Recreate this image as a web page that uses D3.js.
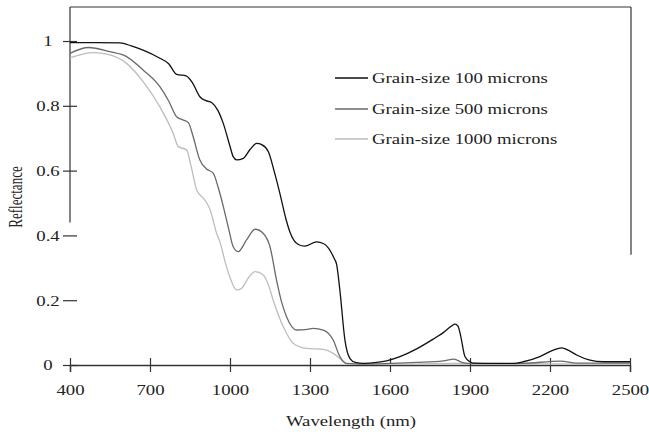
<!DOCTYPE html>
<html>
<head>
<meta charset="utf-8">
<script src="https://cdn.jsdelivr.net/npm/d3@7"></script>
<style>
  body { margin: 0; background: #fff; }
  text { font-family: "Liberation Serif", "DejaVu Serif", serif; fill: #222; }
</style>
</head>
<body>
<svg id="chart" width="649" height="438"></svg>
<script>
// Grain-size 100 microns
const wl100 = [400, 450, 500, 587, 630, 674, 737, 770, 800, 837, 860, 887, 910, 931, 955, 975, 1000, 1012, 1025, 1050, 1075, 1100, 1119, 1144, 1165, 1187, 1210, 1225, 1256, 1280, 1325, 1350, 1370, 1390, 1400, 1412, 1431, 1450, 1470, 1500, 1550, 1587, 1637, 1700, 1762, 1800, 1830, 1844, 1855, 1865, 1881, 1900, 1912, 2000, 2062, 2100, 2162, 2210, 2244, 2270, 2300, 2350, 2400, 2500];
const r100 = [0.995, 0.995, 0.995, 0.994, 0.985, 0.972, 0.947, 0.93, 0.897, 0.892, 0.87, 0.828, 0.816, 0.81, 0.785, 0.745, 0.675, 0.643, 0.633, 0.638, 0.665, 0.684, 0.68, 0.658, 0.6, 0.53, 0.45, 0.41, 0.372, 0.367, 0.38, 0.375, 0.36, 0.33, 0.31, 0.231, 0.077, 0.02, 0.008, 0.005, 0.008, 0.013, 0.026, 0.05, 0.08, 0.1, 0.12, 0.126, 0.12, 0.09, 0.026, 0.01, 0.006, 0.005, 0.005, 0.01, 0.026, 0.045, 0.053, 0.045, 0.031, 0.015, 0.01, 0.01];

// Grain-size 500 microns
const wl500 = [400, 469, 550, 612, 675, 737, 770, 800, 825, 844, 860, 887, 912, 937, 955, 975, 995, 1012, 1031, 1062, 1094, 1125, 1150, 1175, 1195, 1212, 1250, 1290, 1312, 1350, 1387, 1412, 1437, 1500, 1600, 1700, 1800, 1840, 1870, 1900, 2000, 2100, 2240, 2300, 2500];
const r500 = [0.962, 0.98, 0.967, 0.952, 0.91, 0.859, 0.815, 0.766, 0.756, 0.748, 0.71, 0.633, 0.605, 0.592, 0.55, 0.489, 0.42, 0.365, 0.35, 0.386, 0.419, 0.406, 0.365, 0.26, 0.19, 0.149, 0.108, 0.11, 0.113, 0.108, 0.077, 0.026, 0.005, 0.003, 0.005, 0.008, 0.013, 0.018, 0.008, 0.004, 0.004, 0.005, 0.012, 0.006, 0.006];

// Grain-size 1000 microns
const wl1000 = [400, 487, 550, 612, 675, 737, 787, 806, 837, 855, 875, 906, 925, 950, 962, 987, 1000, 1025, 1044, 1070, 1094, 1125, 1145, 1162, 1200, 1237, 1287, 1350, 1387, 1419, 1440, 1600, 1840, 2500];
const r1000 = [0.948, 0.964, 0.957, 0.931, 0.874, 0.797, 0.715, 0.674, 0.664, 0.61, 0.54, 0.509, 0.48, 0.406, 0.38, 0.303, 0.27, 0.231, 0.237, 0.27, 0.288, 0.278, 0.245, 0.2, 0.118, 0.067, 0.051, 0.048, 0.036, 0.015, 0.002, 0.002, 0.005, 0.002];

const seriesNames = ["Grain-size 100 microns", "Grain-size 500 microns", "Grain-size 1000 microns"];
const seriesColors = ["#111", "#6a6a6a", "#bdbdbd"];

const xTicks = [400, 700, 1000, 1300, 1600, 1900, 2200, 2500];
const yTicks = [0, 0.2, 0.4, 0.6, 0.8, 1];
const yTickLabels = ["0", "0.2", "0.4", "0.6", "0.8", "1"];

const SX = 1.25; // the original figure is stretched horizontally

const svg = d3.select("#chart");
const x = d3.scaleLinear().domain([400, 2500]).range([70, 630]);
const y = d3.scaleLinear().domain([0, 1.105]).range([365, 7]);

const series = [
  wl100.map((w, i) => [w, r100[i]]),
  wl500.map((w, i) => [w, r500[i]]),
  wl1000.map((w, i) => [w, r1000[i]])
];

// frame pieces (top, partial left and right)
const frame = svg.append("g").attr("stroke", "#333").attr("stroke-width", 1.2).attr("fill", "none");
frame.append("line").attr("x1", x(400)).attr("x2", x(2500) + 1).attr("y1", y(1.105)).attr("y2", y(1.105));
frame.append("line").attr("x1", x(400)).attr("x2", x(400)).attr("y1", y(1.105)).attr("y2", y(0.44));
frame.append("line").attr("x1", x(2500) + 1).attr("x2", x(2500) + 1).attr("y1", y(1.105)).attr("y2", y(0.34));

// x axis
const gx = svg.append("g")
  .attr("transform", `translate(0,${y(0)})`)
  .call(d3.axisBottom(x).tickValues(xTicks).tickFormat(d3.format("d")).tickSizeOuter(0).tickSize(7));
gx.select(".domain").attr("stroke", "#333").attr("stroke-width", 1.4);
gx.selectAll(".tick line").attr("y1", -7).attr("y2", 7).attr("stroke", "#333").attr("stroke-width", 1.2);
gx.selectAll(".tick text")
  .attr("y", 30).attr("dy", null)
  .attr("transform", `scale(${SX},1)`)
  .style("font-size", "15px")
  .style("font-family", '"Liberation Serif", serif')
  .attr("fill", "#222");

// y axis (ticks + labels only)
const gy = svg.append("g")
  .attr("transform", `translate(${x(400)},0)`)
  .call(d3.axisLeft(y).tickValues(yTicks).tickFormat((d, i) => yTickLabels[i]).tickSize(7));
gy.select(".domain").remove();
gy.selectAll(".tick line").attr("x1", -7).attr("x2", 7).attr("stroke", "#333").attr("stroke-width", 1.2);
gy.selectAll(".tick text")
  .attr("x", -22 / SX).attr("text-anchor", "middle")
  .attr("transform", `scale(${SX},1)`)
  .style("font-size", "15px")
  .style("font-family", '"Liberation Serif", serif')
  .attr("fill", "#222");

// curves
const line = d3.line().x(d => x(d[0])).y(d => y(d[1])).curve(d3.curveMonotoneX);
svg.append("g").selectAll("path")
  .data(series.slice().reverse())
  .join("path")
  .attr("fill", "none")
  .attr("stroke", (d, i) => seriesColors[2 - i])
  .attr("stroke-width", 1.3)
  .attr("d", line);

// legend
const legend = svg.append("g");
const legendY = [78, 109, 139];
seriesNames.forEach((name, i) => {
  legend.append("line")
    .attr("x1", 335).attr("x2", 368)
    .attr("y1", legendY[i]).attr("y2", legendY[i])
    .attr("stroke", seriesColors[i]).attr("stroke-width", 1.3);
  legend.append("text")
    .attr("transform", `translate(372,${legendY[i] + 5}) scale(${SX},1)`)
    .style("font-size", "15px")
    .text(name);
});

// axis titles
svg.append("text")
  .attr("transform", `translate(351,426) scale(${SX},1)`)
  .attr("text-anchor", "middle")
  .style("font-size", "15px")
  .text("Wavelength (nm)");

svg.append("text")
  .attr("transform", `translate(22,197) scale(1.45,1) rotate(-90)`)
  .attr("text-anchor", "middle")
  .style("font-size", "13px")
  .text("Reflectance");
</script>
</body>
</html>
